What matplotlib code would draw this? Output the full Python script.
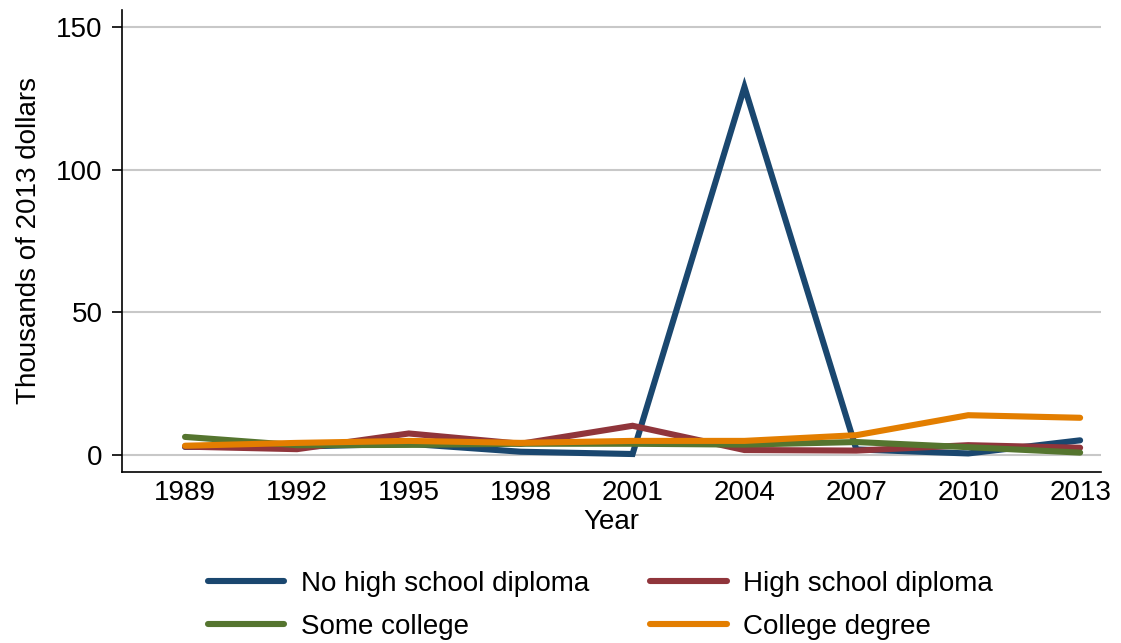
import matplotlib
matplotlib.use("Agg")
import matplotlib.pyplot as plt

plt.rcParams['font.family'] = ['Liberation Sans', 'DejaVu Sans']

years = [1989, 1992, 1995, 1998, 2001, 2004, 2007, 2010, 2013]
no_hs = [2.9, 3.0, 4.0, 1.2, 0.4, 129.0, 2.0, 0.6, 5.2]
hs = [3.0, 2.1, 7.6, 4.0, 10.3, 1.8, 1.6, 3.5, 2.6]
some_college = [6.4, 3.5, 3.6, 4.0, 4.0, 3.7, 4.6, 2.8, 0.9]
college = [3.3, 4.3, 5.0, 4.3, 5.0, 5.0, 7.0, 14.0, 13.1]

labels = ["No high school diploma", "High school diploma", "Some college", "College degree"]
colors = ["#1a476f", "#90353b", "#55752f", "#e37e00"]

fig = plt.figure(figsize=(11.21, 6.43), dpi=100)
ax = fig.add_axes([122/1121, 1-472/643, (1101-122)/1121, (472-10)/643])

series = [no_hs, hs, some_college, college]
lines = []
for vals, lab, c in zip(series, labels, colors):
    l, = ax.plot(years, vals, color=c, lw=4.4, label=lab, solid_capstyle='round', solid_joinstyle='miter')
    lines.append(l)

ax.set_xlim(1987.31, 2013.56)
ax.set_ylim(-5.9, 156)
ax.set_yticks([0, 50, 100, 150])
ax.set_xticks(years)
ax.grid(axis='y', color='#c8c8c8', lw=1.5)
ax.set_axisbelow(True)
for s in ['top', 'right']:
    ax.spines[s].set_visible(False)
for s in ['left', 'bottom']:
    ax.spines[s].set_linewidth(1.2)
ax.tick_params(labelsize=20, width=1.2, direction='out')
ax.tick_params(axis='y', length=7, pad=7)
ax.tick_params(axis='x', length=0, pad=6)
ax.set_xlabel("Year", fontsize=20, labelpad=2)
ax.set_ylabel("Thousands of 2013 dollars", fontsize=20, labelpad=10)

# row-wise order like the original legend
order = [0, 2, 1, 3]
fig.legend([lines[i] for i in order], [labels[i] for i in order],
           loc='upper left', bbox_to_anchor=(183/1121, 1-546/643), ncol=2, frameon=False,
           fontsize=20, handlelength=2.75, columnspacing=2.2, labelspacing=0.6, handletextpad=0.6)

fig.savefig("out.png", dpi=100)
